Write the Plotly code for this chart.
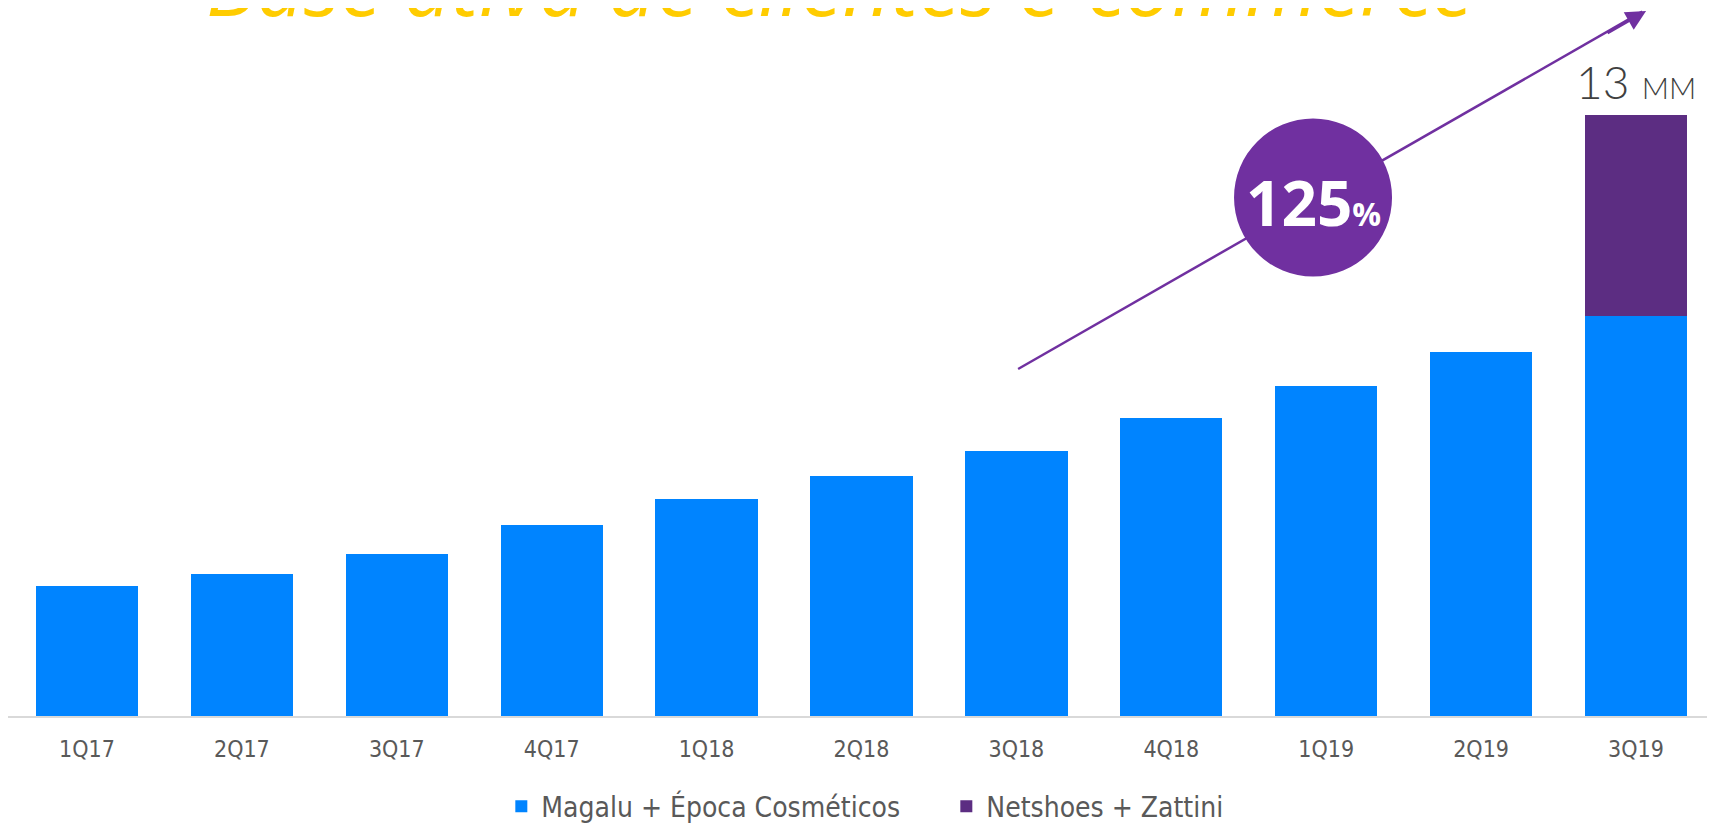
import plotly.graph_objects as go

categories = ["1Q17", "2Q17", "3Q17", "4Q17", "1Q18", "2Q18", "3Q18", "4Q18", "1Q19", "2Q19", "3Q19"]
magalu_epoca = [2.81, 3.07, 3.50, 4.14, 4.70, 5.20, 5.72, 6.45, 7.14, 7.87, 8.65]
netshoes_zattini = [0, 0, 0, 0, 0, 0, 0, 0, 0, 0, 4.35]
total_label = "13"
growth_label = "125"
title_text = "Base ativa de clientes e-commerce"

BLUE = "#0084FF"
PURPLE_BAR = "#5C2D82"
PURPLE = "#7030A0"
GREY = "#595959"
TICK_FONT = "DejaVu Sans Condensed, Liberation Sans Narrow, DejaVu Sans, sans-serif"

fig = go.Figure()
fig.add_trace(go.Bar(x=categories, y=magalu_epoca, name="Magalu + Época Cosméticos",
                     marker=dict(color=BLUE, line=dict(width=0))))
fig.add_trace(go.Bar(x=categories, y=netshoes_zattini, name="Netshoes + Zattini",
                     marker=dict(color=PURPLE_BAR, line=dict(width=0))))

YMAX = 15.31
fig.update_layout(
    width=1707, height=816,
    barmode="stack", bargap=0.34,
    margin=dict(l=0, r=0, t=0, b=108, autoexpand=False),
    plot_bgcolor="white", paper_bgcolor="white",
    showlegend=True,
    legend=dict(orientation="h", x=0.289, xanchor="left", y=-0.128, yanchor="middle",
                font=dict(family=TICK_FONT, size=28, color=GREY),
                entrywidth=400, entrywidthmode="pixels", traceorder="normal"),
    xaxis=dict(range=[-0.510, 10.51], showgrid=False, showline=True, linecolor="#D9D9D9",
               linewidth=2, ticks="", tickfont=dict(family=TICK_FONT, size=23, color=GREY),
               ticklabelstandoff=11),
    yaxis=dict(range=[0, YMAX], visible=False, showgrid=False, zeroline=False),
)

# title (mostly cut off at the top in the reference)
fig.add_annotation(text=title_text, xref="paper", yref="paper", x=0.487, y=1.0353,
                   xanchor="center", yanchor="middle", showarrow=False,
                   font=dict(family="Open Sans, Lato, sans-serif", size=84, color="#FFCC00",
                             style="italic", weight=400))

# trend line (behind the circle)
fig.add_shape(type="line", xref="x", yref="y", x0=6.011, y0=7.504, x1=10.04, y1=15.23,
              line=dict(color=PURPLE, width=2.5), layer="below")
# arrow head
fig.add_annotation(x=10.065, y=15.245, xref="x", yref="y", ax=-40, ay=23,
                   text="", showarrow=True, arrowhead=2, arrowsize=1.6, arrowwidth=2.5,
                   arrowcolor=PURPLE)

# circle badge
fig.add_shape(type="circle", xref="x", yref="y", xsizemode="pixel", ysizemode="pixel",
              xanchor=7.915, yanchor=11.212, x0=-79, x1=79, y0=-79, y1=79,
              fillcolor=PURPLE, line=dict(width=0), layer="above")
fig.add_annotation(x=7.915, y=11.212, xref="x", yref="y", showarrow=False,
                   xanchor="center", yanchor="middle", yshift=-4,
                   text=f"<b>{growth_label}</b><b><span style='font-size:32px'>%</span></b>",
                   font=dict(family="Open Sans, Lato, sans-serif", size=62, color="white"))

# total label on last bar
last_total = magalu_epoca[-1] + netshoes_zattini[-1]
fig.add_annotation(x=categories[-1], y=last_total, xref="x", yref="y", showarrow=False,
                   xanchor="center", yanchor="bottom", yshift=4,
                   text=f"{total_label} <span style='font-size:30px'>MM</span>",
                   font=dict(family="Lato, Open Sans, sans-serif", size=46, color="#404040",
                             weight=300))

fig.write_html("out.html")
